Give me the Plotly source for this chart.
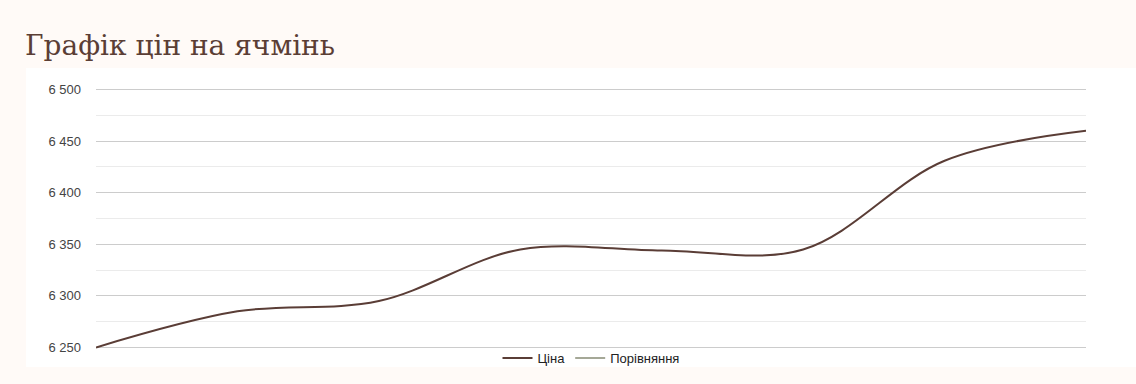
import plotly.graph_objects as go

# Data
periods = [0, 1, 2, 3, 4, 5, 6, 7]
price_values = [6250, 6285, 6295, 6345, 6344, 6345, 6431, 6460]
compare_periods = [None]
compare_values = [None]
y_tick_values = [6250, 6300, 6350, 6400, 6450, 6500]

W, H = 1136, 384
L, R, T, B = 96, 50, 88, 34
plot_w = W - L - R
plot_h = H - T - B

def px_to_paper_x(px):
    return (px - L) / plot_w

def px_to_paper_y(py):
    return (H - B - py) / plot_h

fig = go.Figure()
fig.add_trace(go.Scatter(
    x=periods, y=price_values, name="Ціна", mode="lines",
    line=dict(color="#5a3d36", width=2, shape="spline", smoothing=1.0),
    hoverinfo="skip",
))
fig.add_trace(go.Scatter(
    x=compare_periods, y=compare_values, name="Порівняння", mode="lines",
    line=dict(color="#a5a897", width=2),
    showlegend=True,
))

fig.add_shape(
    type="rect", xref="paper", yref="paper",
    x0=px_to_paper_x(26), x1=px_to_paper_x(1140),
    y0=px_to_paper_y(368), y1=px_to_paper_y(68),
    fillcolor="#ffffff", line=dict(width=0), layer="below",
)

fig.update_layout(
    width=W, height=H,
    margin=dict(l=L, r=R, t=T, b=B),
    paper_bgcolor="#fffaf7",
    plot_bgcolor="#ffffff",
    separators=", ",
    title=dict(
        text="Графік цін на ячмінь",
        x=25 / W, xanchor="left", xref="container",
        y=1 - 45 / H, yanchor="middle", yref="container",
        font=dict(family="DejaVu Serif", size=28, color="#5b3e35"),
    ),
    xaxis=dict(
        range=[0, 7], showgrid=False, zeroline=False,
        showticklabels=False, showline=False, fixedrange=True,
    ),
    yaxis=dict(
        range=[6248.5, 6501.5], tickvals=y_tick_values, tickformat=",d",
        showgrid=True, gridcolor="#cccccc", gridwidth=1,
        zeroline=False, showline=False,
        tickfont=dict(family="Liberation Sans, Arial", size=13, color="#444444"),
        ticklabelstandoff=14,
        minor=dict(dtick=25, tick0=6250, showgrid=True, gridcolor="#ebebeb", gridwidth=1),
    ),
    legend=dict(
        orientation="h", x=0.5, xanchor="center",
        y=px_to_paper_y(358), yanchor="middle",
        font=dict(family="Liberation Sans, Arial", size=13, color="#222222"),
        bgcolor="rgba(0,0,0,0)", itemwidth=30,
    ),
    showlegend=True,
)

fig.write_html("out.html")
